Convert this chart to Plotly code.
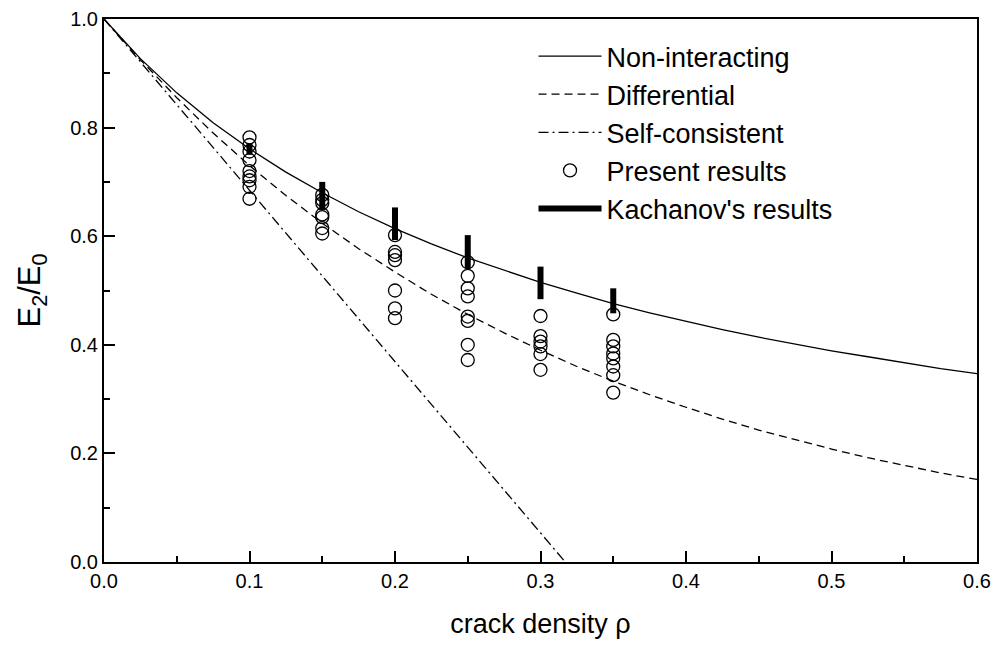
import plotly.graph_objects as go

# Theory curves
rho = [0.0, 0.025, 0.05, 0.075, 0.1, 0.125, 0.15, 0.175, 0.2, 0.225, 0.25, 0.275, 0.3,
       0.325, 0.35, 0.375, 0.4, 0.425, 0.45, 0.475, 0.5, 0.525, 0.55, 0.575, 0.6]
non_interacting = [1.0, 0.927, 0.864, 0.809, 0.761, 0.718, 0.680, 0.645, 0.614, 0.586, 0.560,
                   0.537, 0.515, 0.495, 0.476, 0.459, 0.443, 0.428, 0.414, 0.401, 0.389,
                   0.378, 0.367, 0.356, 0.347]
differential = [1.0, 0.925, 0.855, 0.790, 0.730, 0.675, 0.624, 0.577, 0.534, 0.493, 0.456,
                0.422, 0.390, 0.360, 0.333, 0.308, 0.285, 0.263, 0.243, 0.225, 0.208,
                0.192, 0.178, 0.164, 0.152]
sc_rho = [0.0, 0.317]
self_consistent = [1.0, 0.0]

# Present results (circles)
pres_x = [0.1] * 9 + [0.15] * 7 + [0.2] * 7 + [0.25] * 8 + [0.3] * 6 + [0.35] * 8
pres_y = [0.782, 0.768, 0.756, 0.740, 0.720, 0.710, 0.703, 0.691, 0.669,
          0.676, 0.667, 0.661, 0.640, 0.635, 0.615, 0.605,
          0.602, 0.571, 0.565, 0.556, 0.500, 0.467, 0.449,
          0.552, 0.527, 0.504, 0.489, 0.452, 0.444, 0.400, 0.372,
          0.453, 0.416, 0.406, 0.397, 0.383, 0.354,
          0.456, 0.409, 0.397, 0.384, 0.375, 0.360, 0.344, 0.312]

# Kachanov's results (vertical bars)
kach_x = [0.1, 0.15, 0.2, 0.25, 0.3, 0.35]
kach_lo = [0.750, 0.648, 0.593, 0.541, 0.484, 0.458]
kach_hi = [0.771, 0.700, 0.653, 0.602, 0.544, 0.504]

kx, ky = [], []
for x, lo, hi in zip(kach_x, kach_lo, kach_hi):
    kx += [x, x, None]
    ky += [lo, hi, None]

fig = go.Figure()
fig.add_trace(go.Scatter(x=rho, y=non_interacting, mode="lines", name="Non-interacting",
                         line=dict(color="black", width=1.3), legendgroup="a"))
fig.add_trace(go.Scatter(x=rho, y=differential, mode="lines", name="Differential",
                         line=dict(color="black", width=1.3, dash="8px,5px"), legendgroup="b"))
fig.add_trace(go.Scatter(x=sc_rho, y=self_consistent, mode="lines", name="Self-consistent",
                         line=dict(color="black", width=1.3, dash="10px,4px,2px,4px"), legendgroup="c"))
fig.add_trace(go.Scatter(x=pres_x, y=pres_y, mode="markers", name="Present results",
                         marker=dict(symbol="circle-open", size=13, color="black",
                                     line=dict(width=1.3, color="black")), legendgroup="d"))
fig.add_trace(go.Scatter(x=kx, y=ky, mode="lines", name="Kachanov's results",
                         line=dict(color="black", width=6), connectgaps=False, legendgroup="e"))

font = "Liberation Sans, Arial, sans-serif"
fig.update_layout(
    width=997, height=648,
    margin=dict(l=104, r=20, t=19, b=86),
    paper_bgcolor="white", plot_bgcolor="white",
    font=dict(family=font, color="black"),
    showlegend=True,
    legend=dict(x=0.492, y=0.976, xanchor="left", yanchor="top",
                font=dict(size=27, family=font), bgcolor="rgba(0,0,0,0)",
                itemwidth=63, tracegroupgap=10, traceorder="normal"),
    xaxis=dict(range=[0, 0.6], tickvals=[0, 0.1, 0.2, 0.3, 0.4, 0.5, 0.6],
               ticktext=["0.0", "0.1", "0.2", "0.3", "0.4", "0.5", "0.6"],
               ticks="inside", ticklen=11, tickwidth=2, tickcolor="black",
               minor=dict(tickvals=[0.05, 0.15, 0.25, 0.35, 0.45, 0.55], ticks="inside",
                          ticklen=6, tickwidth=2, tickcolor="black"),
               showline=True, linewidth=2, linecolor="black", mirror=True,
               showgrid=False, zeroline=False, automargin=False,
               tickfont=dict(size=20), title=dict(text="crack density ρ", font=dict(size=27), standoff=23)),
    yaxis=dict(range=[0, 1.0], tickvals=[0, 0.2, 0.4, 0.6, 0.8, 1.0],
               ticktext=["0.0", "0.2", "0.4", "0.6", "0.8", "1.0"],
               ticks="inside", ticklen=11, tickwidth=2, tickcolor="black",
               minor=dict(tickvals=[0.1, 0.3, 0.5, 0.7, 0.9], ticks="inside",
                          ticklen=6, tickwidth=2, tickcolor="black"),
               showline=True, linewidth=2, linecolor="black", mirror=True,
               showgrid=False, zeroline=False, automargin=False,
               tickfont=dict(size=20),
               title=dict(text="E<sub>2</sub>/E<sub>0</sub>", font=dict(size=31), standoff=20)),
)

fig.write_html("out.html", config={"displayModeBar": False},
               post_script="document.body.style.margin='0';document.body.style.overflow='hidden';")
